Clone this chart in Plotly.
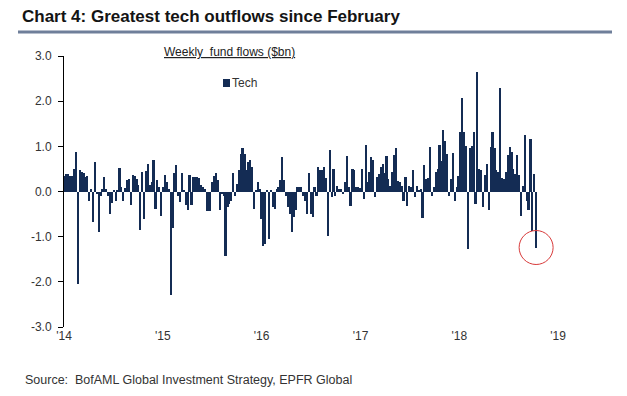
import pandas as pd
import plotly.graph_objects as go

# Weekly tech fund flows ($bn), one list per calendar year
flows_2014 = [0.35, 0.38, 0.38, 0.35, 0.35, 0.5, 0.87, -2.05, 0.47, 0.44,
              0.42, 0.32, 0.34, -0.22, 0.05, -0.68, 0.65, -0.05, -0.9, -0.1,
              0.05, 0.32, 0.05, -0.1, -0.5, -0.25, 0.02, -0.2, 0.02, 0.52,
              0.1, -0.2, 0.08, 0.25, 0.27, -0.3, 0.37, 0.35, 0.28, 0.15,
              -0.85, 0.43, -0.6, 0.45, 0.6, 0.15, 0.2, 0.7, -0.38, 0.25,
              0.1, -0.55]
flows_2015 = [0.1, 0.37, 0.2, 0.05, -2.3, -0.8, 0.42, 0.58, -0.1, -0.24,
              0.4, 0.02, -0.3, -0.42, 0.37, -0.3, 0.33, 0.33, 0.33, 0.3,
              0.15, 0.1, 0.05, -0.44, -0.44, -0.44, 0.2, 0.35, 0.4, 0.25,
              -0.4, -0.05, -0.1, -1.42, -0.35, -0.27, -0.2, 0.41, -0.1, 0.17,
              0.47, 0.84, 0.97, 0.84, 0.48, 0.65, 0.7, 0.54, -0.39, 0.02,
              0.2, 0.05]
flows_2016 = [-0.6, -1.2, -1.16, 0.04, -1.05, 0.03, -0.35, -0.38, 0.05, 0.1,
              0.25, 0.76, 0.26, -0.1, -0.35, -0.5, -0.9, -0.57, -0.42, 0.1,
              0.1, 0.1, -0.1, -0.2, -0.5, 0.41, -0.5, -0.57, 0.11, -0.09,
              0.54, 0.48, 0.47, 0.54, 0.3, -0.98, 0.93, -0.13, 0.5, -0.1,
              0.13, 0.06, 0.05, -0.05, 0.2, 0.78, 0.1, -0.33, 0.5, 0.47,
              0.1, 0.1, 0.08]
flows_2017 = [0.5, -0.16, 1.04, 0.2, 0.43, 0.76, 0.69, -0.13, 0.32, 0.39,
              0.54, 0.6, 0.4, 0.78, 0.28, 0.13, 0.43, 0.8, 0.96, 0.24,
              0.21, 0.13, -0.2, 0.33, -0.31, 0.13, 0.1, 0.47, -0.12, 0.13,
              0.02, 0.05, -0.58, 0.58, 0.28, 0.3, 0.98, -0.09, 0.1, 0.43,
              0.5, 1.02, 0.67, 1.36, 1.12, 0.84, -0.1, 0.28, 0.85, -0.2,
              0.1, 0.35]
flows_2018 = [1.32, 2.08, 1.32, 1.0, -1.27, 0.97, 1.0, 1.32, -0.27, 2.64,
              0.5, 0.47, -0.35, 0.36, 0.6, -0.42, 0.99, 1.32, 0.97, 0.47,
              0.43, 2.3, 0.3, 0.28, 0.43, 0.8, 0.99, 0.87, 0.5, 0.39,
              0.8, 0.36, -0.55, 0.13, 1.24, -0.2, -0.42, 1.17, -0.87, 0.39,
              -1.24]

first_week = "2014-01-03"
series_name = "Tech"

x_tick_dates = ["2014-01-01", "2015-01-01", "2016-01-01", "2017-01-01", "2018-01-01", "2019-01-01"]
x_tick_labels = ["'14", "'15", "'16", "'17", "'18", "'19"]
y_tick_values = [3, 2, 1, 0, -1, -2, -3]
y_tick_labels = ["3.0", "2.0", "1.0", "0.0", "-1.0", "-2.0", "-3.0"]

title_text = "Chart 4: Greatest tech outflows since February"
subtitle_text = "Weekly  fund flows ($bn)"
source_text = "Source:  BofAML Global Investment Strategy, EPFR Global"

flows = flows_2014 + flows_2015 + flows_2016 + flows_2017 + flows_2018
dates = pd.date_range(first_week, periods=len(flows), freq="7D")

# The page body has an 8px margin, so the figure is sized/offset to compensate
OFF = 8
W, H = 611, 380
PAGE_L, PAGE_R, PAGE_T, PAGE_B = 64, 574, 56, 327
L = PAGE_L - OFF
T = PAGE_T - OFF
R = W - (PAGE_R - OFF)
B = H - (PAGE_B - OFF)
PW, PH = W - L - R, H - T - B


def px(xp):
    return (xp - OFF - L) / PW


def py(yp):
    return (H - B - (yp - OFF)) / PH


BAR = "#142c54"
FONT = "Liberation Sans, Arial, sans-serif"

fig = go.Figure()
fig.add_trace(go.Bar(
    x=dates, y=flows, name=series_name,
    width=8 * 24 * 3600 * 1000,
    marker=dict(color=BAR, line=dict(width=0)),
    showlegend=False,
))

fig.update_layout(
    width=W, height=H,
    margin=dict(l=L, r=R, t=T, b=B),
    paper_bgcolor="white", plot_bgcolor="white",
    font=dict(family=FONT, size=12, color="#333333"),
    bargap=0,
    xaxis=dict(
        type="date", range=["2014-01-01", "2019-03-01"],
        tickvals=x_tick_dates, ticktext=x_tick_labels,
        showgrid=False, zeroline=False, showline=False, ticks="",
        tickfont=dict(size=12, color="#333333"),
    ),
    yaxis=dict(
        range=[-3, 3], tickvals=y_tick_values, ticktext=y_tick_labels,
        showgrid=False, zeroline=False, showline=True, linecolor="black",
        linewidth=1, ticks="outside", ticklen=5, tickcolor="black",
        ticklabelstandoff=4,
        tickfont=dict(size=12, color="#333333"),
    ),
)

# Title and rule
fig.add_annotation(
    text="<b>" + title_text + "</b>", xref="paper", yref="paper",
    x=px(20), y=py(17), xanchor="left", yanchor="middle", showarrow=False,
    font=dict(family=FONT, size=17, color="#141414"),
)
fig.add_shape(type="line", xref="paper", yref="paper",
              x0=px(18), x1=px(612), y0=py(32), y1=py(32),
              line=dict(color="#6f7f9a", width=3))

# Subtitle
fig.add_annotation(
    text="<u>" + subtitle_text + "</u>", xref="paper", yref="paper",
    x=px(229), y=py(52), xanchor="center", yanchor="middle", showarrow=False,
    font=dict(family=FONT, size=12, color="#222222"),
)

# Legend (square + label)
fig.add_shape(type="rect", xref="paper", yref="paper",
              x0=px(223), x1=px(230), y0=py(87), y1=py(79),
              fillcolor=BAR, line=dict(width=0))
fig.add_annotation(
    text=series_name, xref="paper", yref="paper",
    x=px(230), y=py(83), xanchor="left", yanchor="middle", showarrow=False,
    font=dict(family=FONT, size=12, color="#333333"),
)

# Red circle around the latest bar
fig.add_shape(type="circle", xref="x", yref="y",
              xsizemode="pixel", ysizemode="pixel",
              xanchor=dates[-1], yanchor=flows[-1],
              x0=-17, x1=17, y0=-17, y1=17,
              line=dict(color="#d83a3a", width=1))

# Source
fig.add_annotation(
    text=source_text, xref="paper", yref="paper",
    x=px(23), y=py(380), xanchor="left", yanchor="middle", showarrow=False,
    font=dict(family=FONT, size=12.5, color="#333333"),
)

fig.write_html("out.html")
